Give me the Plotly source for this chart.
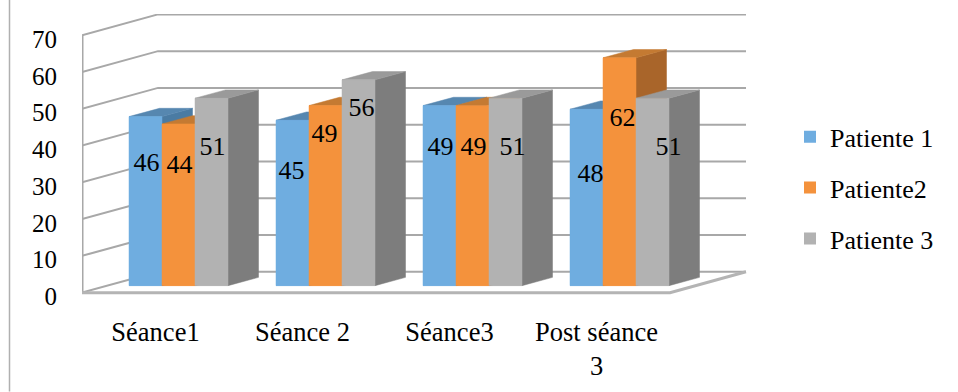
import plotly.graph_objects as go

CATEGORIES = ["Séance1", "Séance 2", "Séance3", "Post séance<br>3"]
SERIES_NAMES = ["Patiente 1", "Patiente2", "Patiente 3"]
PATIENTE_1 = [46, 45, 49, 48]
PATIENTE_2 = [44, 49, 49, 62]
PATIENTE_3 = [51, 56, 51, 51]
Y_TICKS = [0, 10, 20, 30, 40, 50, 60, 70]

# Label placement tweaks (value units below bar top / pixels sideways)
LABEL_DROP = [[13.1, 14.3, 11.7, 18.1], [11.7, 8.2, 11.7, 16.7], [13.7, 8.2, 13.7, 13.7]]
LABEL_SHIFT = [[1, -1, 1, 4], [1, -1, 1, 3], [1, 3, 7, 16]]
TICK_LABEL_NUDGE = 1.0

FRONT = ["#6FADE0", "#F4923C", "#B2B2B2"]
SIDE = ["#4A7BA3", "#A9652A", "#7D7D7D"]
TOP = ["#5687B0", "#C47A32", "#9A9A9A"]
GRID = "#A8A8A8"
FONT = "Liberation Serif"

PX_X = 147.0
PX_Y = 3.68
WALL_DX, WALL_DY = 76 / PX_X, 21 / PX_Y
FRONT_DX, FRONT_DY = 23 / PX_X, 7 / PX_Y
BAR_DX, BAR_DY = 30.5 / PX_X, 8.3 / PX_Y
BAR_W = 33 / PX_X
N = len(CATEGORIES)
values = [PATIENTE_1, PATIENTE_2, PATIENTE_3]

Y_MIN = -2.0
PLOT_H = 279 - Y_MIN * PX_Y
MARGIN_B = 392 - 14 - PLOT_H

fig = go.Figure()


def bar_left(s, k):
    return k + 0.5 + FRONT_DX + (s - 1.5) * BAR_W


# real bar traces: data + legend
for s, name in enumerate(SERIES_NAMES):
    fig.add_bar(
        x=[bar_left(s, k) + BAR_W / 2 for k in range(N)],
        y=values[s],
        base=FRONT_DY,
        width=BAR_W,
        name=name,
        marker=dict(color=FRONT[s], line=dict(width=0)),
        legendgroup=name,
    )


def line(xs, ys, width=2, color=GRID):
    fig.add_scatter(x=xs, y=ys, mode="lines", line=dict(color=color, width=width),
                    showlegend=False, hoverinfo="skip", cliponaxis=False)


def poly(xs, ys, color):
    fig.add_scatter(x=xs, y=ys, mode="lines", fill="toself", fillcolor=color,
                    line=dict(color=color, width=0.5), showlegend=False, hoverinfo="skip",
                    cliponaxis=False)


# walls and floor
for v in Y_TICKS:
    line([0, WALL_DX, N + WALL_DX], [v, v + WALL_DY, v + WALL_DY])
line([0, 0], [0, Y_TICKS[-1]], width=3)
line([0, N, N + WALL_DX], [0, 0, WALL_DY], width=3, color="#B4B4B4")

# bars drawn back to front in series order
for k in range(N):
    for s in range(len(SERIES_NAMES)):
        v = values[s][k]
        x0, x1 = bar_left(s, k), bar_left(s, k) + BAR_W
        y0, y1 = FRONT_DY, FRONT_DY + v
        poly([x1, x1 + BAR_DX, x1 + BAR_DX, x1, x1],
             [y0, y0 + BAR_DY, y1 + BAR_DY, y1, y0], SIDE[s])
        poly([x0, x0 + BAR_DX, x1 + BAR_DX, x1, x0],
             [y1, y1 + BAR_DY, y1 + BAR_DY, y1, y1], TOP[s])
        poly([x0, x1, x1, x0, x0], [y0, y0, y1, y1, y0], FRONT[s])

# data labels
for s in range(len(SERIES_NAMES)):
    fig.add_scatter(
        x=[bar_left(s, k) + BAR_W / 2 + LABEL_SHIFT[s][k] / PX_X for k in range(N)],
        y=[FRONT_DY + values[s][k] - LABEL_DROP[s][k] for k in range(N)],
        text=[str(v) for v in values[s]],
        mode="text",
        textposition="middle center",
        textfont=dict(family=FONT, size=26, color="#000000"),
        showlegend=False,
        hoverinfo="skip",
        cliponaxis=False,
    )

fig.update_layout(
    width=958,
    height=392,
    autosize=False,
    margin=dict(l=82, r=211, t=14, b=MARGIN_B),
    paper_bgcolor="white",
    plot_bgcolor="white",
    barmode="overlay",
    font=dict(family=FONT, size=25, color="#000000"),
    legend=dict(
        x=(790 - 82) / 665, xanchor="left", y=0.392, yanchor="middle",
        tracegroupgap=14, font=dict(family=FONT, size=26, color="#000000"),
        bgcolor="rgba(0,0,0,0)", itemclick=False, itemdoubleclick=False,
    ),
    xaxis=dict(
        range=[0, 665 / PX_X], showgrid=False, zeroline=False, showline=False,
        tickmode="array", tickvals=[k + 0.5 for k in range(N)], ticktext=CATEGORIES,
        ticks="", ticklabelstandoff=13, tickangle=0,
        tickfont=dict(family=FONT, size=26.5, color="#000000"),
    ),
    yaxis=dict(
        range=[Y_MIN, 279 / PX_Y], showgrid=False, zeroline=False, showline=False,
        tickmode="array", tickvals=[v - TICK_LABEL_NUDGE for v in Y_TICKS],
        ticktext=[str(v) for v in Y_TICKS],
        ticks="", ticklabelstandoff=24,
        tickfont=dict(family=FONT, size=25, color="#000000"),
    ),
    shapes=[dict(type="line", xref="paper", yref="paper",
                 x0=(9.5 - 82) / 665, x1=(9.5 - 82) / 665,
                 y0=-MARGIN_B / PLOT_H, y1=14 / PLOT_H + 1,
                 line=dict(color="#B0B0B0", width=1.5))],
)

fig.write_html("out.html", config={"displayModeBar": False},
               post_script="document.body.style.margin='0';")
